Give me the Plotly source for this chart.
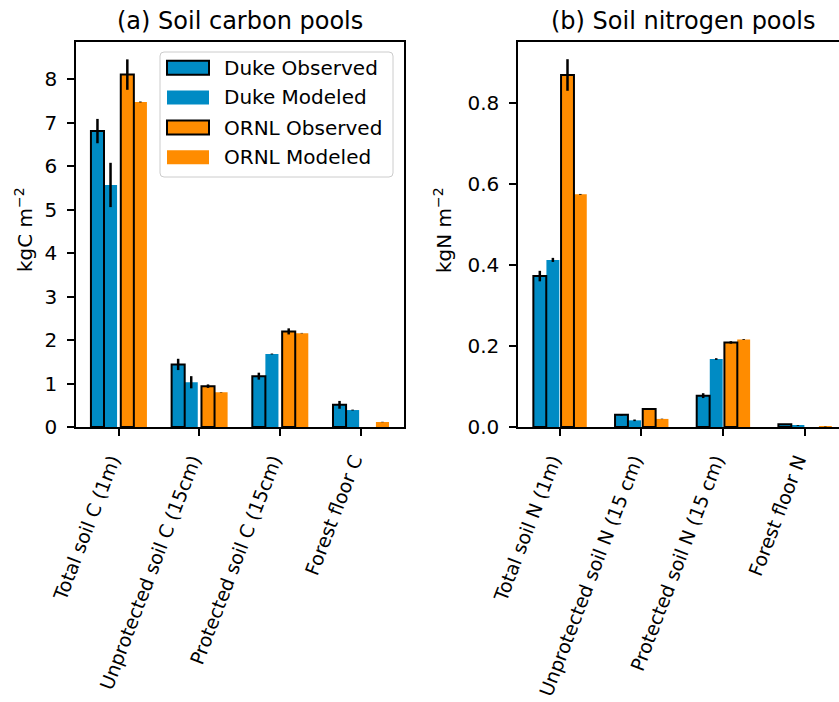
import plotly.graph_objects as go

# ---------------- data ----------------
categories_c = ["Total soil C (1m)", "Unprotected soil C (15cm)", "Protected soil C (15cm)", "Forest floor C"]
categories_n = ["Total soil N (1m)", "Unprotected soil N (15 cm)", "Protected soil N (15 cm)", "Forest floor N"]

duke_obs_c = [6.81, 1.44, 1.17, 0.51]
duke_obs_c_err = [0.28, 0.13, 0.08, 0.09]
duke_mod_c = [5.57, 1.03, 1.68, 0.39]
duke_mod_c_err = [0.51, 0.14, 0.01, 0.01]
ornl_obs_c = [8.11, 0.94, 2.20, None]
ornl_obs_c_err = [0.35, 0.04, 0.07, None]
ornl_mod_c = [7.48, 0.80, 2.16, 0.115]
ornl_mod_c_err = [0.01, 0.005, 0.005, 0.005]

duke_obs_n = [0.373, 0.030, 0.0775, 0.0065]
duke_obs_n_err = [0.013, 0.002, 0.006, 0.0005]
duke_mod_n = [0.413, 0.0165, 0.168, 0.004]
duke_mod_n_err = [0.005, 0.002, 0.002, 0.001]
ornl_obs_n = [0.870, 0.0445, 0.209, None]
ornl_obs_n_err = [0.039, 0.001, 0.003, None]
ornl_mod_n = [0.575, 0.020, 0.2165, 0.001]
ornl_mod_n_err = [0.001, 0.0005, 0.001, 0.0005]

yticks_c = [0, 1, 2, 3, 4, 5, 6, 7, 8]
yticks_n = [0.0, 0.2, 0.4, 0.6, 0.8]
series_names = ["Duke Observed", "Duke Modeled", "ORNL Observed", "ORNL Modeled"]

# ---------------- style ----------------
W, H = 839, 702
BLUE = "#008bc4"
ORANGE = "#ff8c00"
FONT = "DejaVu Sans"


def px(x):
    return x / W


def py(y):
    return 1 - y / H


fig = go.Figure()

idx = list(range(4))


def add_bars(xaxis, yaxis, vals, errs, color, edge, offset, width, name):
    fig.add_trace(go.Bar(
        x=idx, y=vals, name=name, xaxis=xaxis, yaxis=yaxis,
        offset=offset, width=width,
        marker=dict(color=color, line=dict(color="black", width=2 if edge else 0)),
        error_y=dict(type="data", array=errs, visible=True, color="black",
                     thickness=2.5, width=0),
        showlegend=False,
    ))


# left panel (carbon): modeled first so observed edge lines stay on top
lw = 0.162
add_bars("x", "y", duke_mod_c, duke_mod_c_err, BLUE, False, -0.183, lw, series_names[1])
add_bars("x", "y", duke_obs_c, duke_obs_c_err, BLUE, True, -0.345, lw, series_names[0])
add_bars("x", "y", ornl_mod_c, ornl_mod_c_err, ORANGE, False, 0.187, lw, series_names[3])
add_bars("x", "y", ornl_obs_c, ornl_obs_c_err, ORANGE, True, 0.025, lw, series_names[2])

rw = 0.158
add_bars("x2", "y2", duke_mod_n, duke_mod_n_err, BLUE, False, -0.162, rw, series_names[1])
add_bars("x2", "y2", duke_obs_n, duke_obs_n_err, BLUE, True, -0.322, rw, series_names[0])
add_bars("x2", "y2", ornl_mod_n, ornl_mod_n_err, ORANGE, False, 0.174, rw, series_names[3])
add_bars("x2", "y2", ornl_obs_n, ornl_obs_n_err, ORANGE, True, 0.017, rw, series_names[2])

axis_common = dict(showline=True, linecolor="black", linewidth=1.5, showgrid=False,
                   zeroline=False, ticks="outside", ticklen=7, tickwidth=1.5,
                   automargin=False, tickcolor="black")
yfont = dict(family=FONT, size=20, color="black")
xfont = dict(family=FONT, size=19, color="black")

fig.update_layout(
    template="none",
    width=W, height=H, margin=dict(l=0, r=0, t=0, b=0, pad=0), autosize=False,
    paper_bgcolor="white", plot_bgcolor="white", barmode="overlay",
    font=dict(family=FONT, size=20, color="black"),
    xaxis=dict(domain=[px(76), px(404)], range=[-0.53, 3.535], anchor="y",
               tickvals=idx, ticktext=categories_c, tickangle=-69, mirror=True,
               ticklabelstandoff=6, ticklabelshift=-7, tickfont=xfont, **axis_common),
    yaxis=dict(domain=[py(427), py(42)], range=[0, 8.86], anchor="x",
               tickvals=yticks_c, mirror=True,
               ticklabelstandoff=6, tickfont=yfont, **axis_common),
    xaxis2=dict(domain=[px(518), 1.0], range=[-0.51, 3.42], anchor="y2",
                tickvals=idx, ticktext=categories_n, tickangle=-69, mirror=True,
                ticklabelstandoff=6, ticklabelshift=-7, tickfont=xfont, **axis_common),
    yaxis2=dict(domain=[py(427), py(42)], range=[0, 0.9515], anchor="x2",
                tickvals=yticks_n, tickformat=".1f", mirror=False,
                ticklabelstandoff=6, tickfont=yfont, **axis_common),
)

annotations = [
    dict(text="(a) Soil carbon pools", x=px(240), y=py(21.5), font=dict(size=24)),
    dict(text="(b) Soil nitrogen pools", x=px(683), y=py(21.5), font=dict(size=24)),
    dict(text="kgC m<sup>−2</sup>", x=px(24), y=py(230), textangle=-90, font=dict(size=20)),
    dict(text="kgN m<sup>−2</sup>", x=px(443), y=py(230), textangle=-90, font=dict(size=20)),
]
for a in annotations:
    a.update(xref="paper", yref="paper", showarrow=False, xanchor="center", yanchor="middle")

# legend (matplotlib-style frame with rectangular patches)
lx0, lx1, ly0, ly1, r = 160, 393, 52, 177, 4
frame_path = (
    f"M{px(lx0 + r)},{py(ly0)} L{px(lx1 - r)},{py(ly0)} Q{px(lx1)},{py(ly0)} {px(lx1)},{py(ly0 + r)} "
    f"L{px(lx1)},{py(ly1 - r)} Q{px(lx1)},{py(ly1)} {px(lx1 - r)},{py(ly1)} "
    f"L{px(lx0 + r)},{py(ly1)} Q{px(lx0)},{py(ly1)} {px(lx0)},{py(ly1 - r)} "
    f"L{px(lx0)},{py(ly0 + r)} Q{px(lx0)},{py(ly0)} {px(lx0 + r)},{py(ly0)} Z"
)
shapes = [dict(type="path", path=frame_path, xref="paper", yref="paper",
               fillcolor="rgba(255,255,255,0.85)", line=dict(color="#cccccc", width=1))]
row_y = [67.7, 97.5, 127.5, 157.3]
legend_colors = [BLUE, BLUE, ORANGE, ORANGE]
legend_edge = [True, False, True, False]
for name, yc, col, edge in zip(series_names, row_y, legend_colors, legend_edge):
    shapes.append(dict(type="rect", xref="paper", yref="paper",
                       x0=px(167), x1=px(209), y0=py(yc - 7), y1=py(yc + 7),
                       fillcolor=col, line=dict(color="black", width=2 if edge else 0)))
    annotations.append(dict(text=name, x=px(222), y=py(yc), xref="paper", yref="paper",
                            showarrow=False, xanchor="left", yanchor="middle",
                            font=dict(size=20)))

fig.update_layout(annotations=annotations, shapes=shapes)

fig.write_html("out.html", config={"displayModeBar": False},
               post_script="document.body.style.margin='0px';document.body.style.overflow='hidden';")
